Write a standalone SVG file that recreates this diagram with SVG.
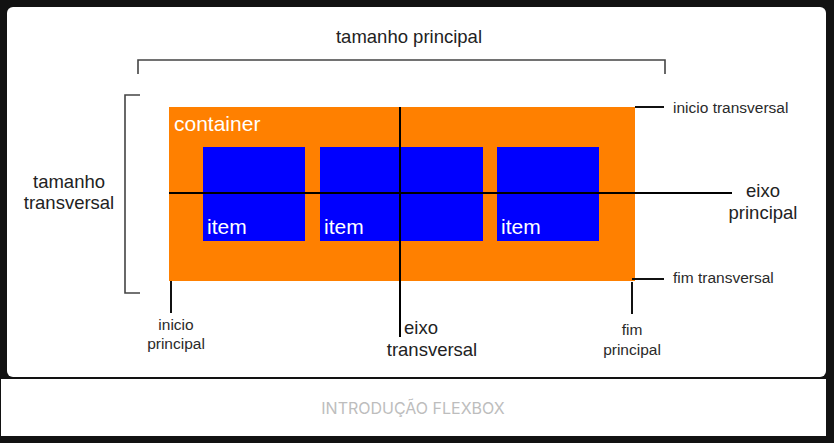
<svg xmlns="http://www.w3.org/2000/svg" width="834" height="443" viewBox="0 0 834 443">
<style>
.lbl{font-family:"Liberation Sans",Arial,sans-serif;fill:#222}
.big{font-size:18.5px}
.sm{font-size:15.5px;fill:#2a2a2a}
.wt{font-family:"Liberation Sans",Arial,sans-serif;fill:#fff;font-size:21px}
.br{fill:none;stroke:#444;stroke-width:1.6}
.ax{stroke:#000;stroke-width:2}
.tk{stroke:#111;stroke-width:2}
</style>
<rect x="0" y="0" width="834" height="443" fill="#121212"/>
<rect x="7" y="7" width="819" height="370" rx="6" fill="#fff"/>
<rect x="1" y="379" width="825" height="57" fill="#fff"/>
<text x="413" y="414" text-anchor="middle" font-family="Inter,'Liberation Sans',sans-serif" font-size="16" fill="#bdbdbd">INTRODUÇÃO FLEXBOX</text>

<g id="container">
<rect x="169" y="107" width="466" height="174" fill="#ff8000"/>
<text class="wt" x="174" y="131">container</text>
</g>
<g id="item1">
<rect x="203" y="147" width="102" height="94" fill="#0000ff"/>
<text class="wt" x="207" y="234">item</text>
</g>
<g id="item2">
<rect x="320" y="147" width="163" height="94" fill="#0000ff"/>
<text class="wt" x="324" y="234">item</text>
</g>
<g id="item3">
<rect x="497" y="147" width="102" height="94" fill="#0000ff"/>
<text class="wt" x="501" y="234">item</text>
</g>

<g id="connectors">
<path class="br" d="M138,74 V60 H665 V74"/>
<path class="br" d="M140,95 H125 V293 H140"/>
<line class="ax" x1="169" y1="193" x2="732" y2="193"/>
<line class="ax" x1="400" y1="107" x2="400" y2="337"/>
<line class="tk" x1="635" y1="107" x2="664" y2="107"/>
<line class="tk" x1="632" y1="279" x2="664" y2="279"/>
<line class="tk" x1="632" y1="282" x2="632" y2="314"/>
<line class="tk" x1="171" y1="281" x2="171" y2="313"/>
</g>

<g id="labels">
<text class="lbl big" x="409" y="43" text-anchor="middle">tamanho principal</text>
<text class="lbl big" x="69" y="188" text-anchor="middle">tamanho</text>
<text class="lbl big" x="69" y="209" text-anchor="middle">transversal</text>
<text class="lbl big" x="763" y="197" text-anchor="middle">eixo</text>
<text class="lbl big" x="763" y="219" text-anchor="middle">principal</text>
<text class="lbl sm" x="673" y="113">inicio transversal</text>
<text class="lbl sm" x="673" y="283">fim transversal</text>
<text class="lbl sm" x="632" y="335" text-anchor="middle">fim</text>
<text class="lbl sm" x="632" y="355" text-anchor="middle">principal</text>
<text class="lbl sm" x="176" y="330" text-anchor="middle">inicio</text>
<text class="lbl sm" x="176" y="349" text-anchor="middle">principal</text>
<text class="lbl big" x="421" y="334" text-anchor="middle">eixo</text>
<text class="lbl big" x="432" y="356" text-anchor="middle">transversal</text>
</g>
</svg>
